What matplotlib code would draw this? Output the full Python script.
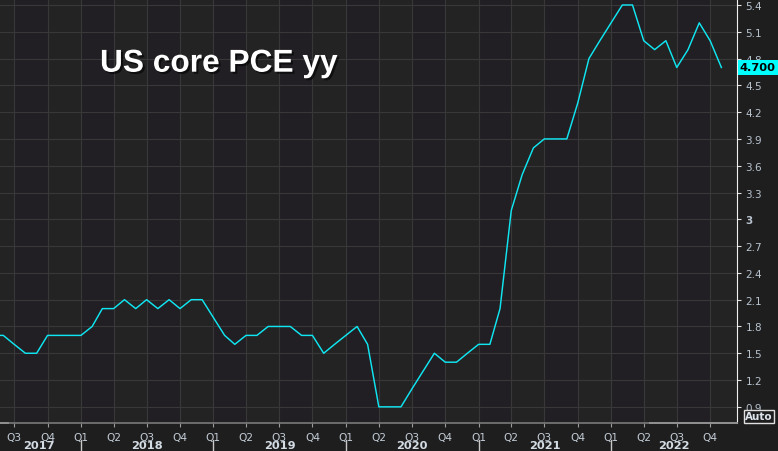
import numpy as np
import pandas as pd
import matplotlib
matplotlib.use("Agg")
import matplotlib.pyplot as plt
import matplotlib.dates as mdates
import matplotlib.patheffects as pe
from matplotlib.transforms import blended_transform_factory

# monthly core PCE y/y, May 2017 .. Nov 2022
months = pd.date_range("2017-05-01", "2022-11-01", freq="MS")
pce_2017 = [1.7, 1.7, 1.6, 1.5, 1.5, 1.7, 1.7, 1.7]
pce_2018 = [1.7, 1.8, 2.0, 2.0, 2.1, 2.0, 2.1, 2.0, 2.1, 2.0, 2.1, 2.1]
pce_2019 = [1.9, 1.7, 1.6, 1.7, 1.7, 1.8, 1.8, 1.8, 1.7, 1.7, 1.5, 1.6]
pce_2020 = [1.7, 1.8, 1.6, 0.9, 0.9, 0.9, 1.1, 1.3, 1.5, 1.4, 1.4, 1.5]
pce_2021 = [1.6, 1.6, 2.0, 3.1, 3.5, 3.8, 3.9, 3.9, 3.9, 4.3, 4.8, 5.0]
pce_2022 = [5.2, 5.4, 5.4, 5.0, 4.9, 5.0, 4.7, 4.9, 5.2, 5.0, 4.7]
pce = pce_2017 + pce_2018 + pce_2019 + pce_2020 + pce_2021 + pce_2022

years = [2017, 2018, 2019, 2020, 2021, 2022]
yticks = [0.9, 1.2, 1.5, 1.8, 2.1, 2.4, 2.7, 3.0, 3.3, 3.6, 3.9, 4.2, 4.5, 4.8, 5.1, 5.4]
last_label = "4.700"

W, H = 778, 452
bg = "#1e1e1f"
fig = plt.figure(figsize=(W / 100, H / 100), dpi=100, facecolor=bg)
ax = fig.add_axes([0, 28 / H, 737 / W, 424 / H])
ax.set_facecolor("none")

x0 = mdates.date2num(pd.Timestamp("2017-05-23"))
x1 = mdates.date2num(pd.Timestamp("2022-12-14"))
ax.set_xlim(x0, x1)
ax.set_ylim(0.719, 5.467)

# alternating quarter shading (very faint)
qstarts = pd.date_range("2017-04-01", "2022-10-01", freq="QS")
for q in qstarts:
    c = "#211f23" if q.month in (1, 7) else "#222322"
    ax.axvspan(q, q + pd.DateOffset(months=3), color=c, lw=0, zorder=0)

ax.plot(months, pce, color="#10e6f2", lw=1.05, zorder=3)

# axes, ticks, grid
qticks = pd.date_range("2017-07-01", "2022-10-01", freq="QS")
ax.set_xticks(qticks)
ax.set_xticklabels(["Q%d" % ((d.month - 1) // 3 + 1) for d in qticks])
ax.yaxis.tick_right()
ax.set_yticks(yticks)
ax.set_yticklabels(["%g" % v for v in yticks])
for lab in ax.get_yticklabels():
    if lab.get_text() == "3":
        lab.set_fontweight("bold")
ax.tick_params(axis="x", colors="#9a9a9a", labelcolor="#c4cdd6", labelsize=7.6,
               length=3, pad=3.2)
ax.tick_params(axis="y", colors="#e0e0e0", labelcolor="#b8c3ce", labelsize=7.5,
               length=3, pad=3)
ax.grid(True, color="#383838", lw=0.8)
ax.set_axisbelow(True)
for s in ["top", "left"]:
    ax.spines[s].set_visible(False)
ax.spines["right"].set_color("#f0f0f0")
ax.spines["bottom"].set_color("#7a7a7a")
ax.spines["bottom"].set_linewidth(1.2)

xt = ax.get_xaxis_transform()
# white ends of the bottom line
ax.plot([0, 8 / 737], [0, 0], transform=ax.transAxes, color="white", lw=1.4, clip_on=False)
ax.plot([650 / 737, 1], [0, 0], transform=ax.transAxes, color="white", lw=1.4, clip_on=False)

# year labels and separators
for yr in years:
    a = max(mdates.date2num(pd.Timestamp(f"{yr}-01-01")), x0)
    b = min(mdates.date2num(pd.Timestamp(f"{yr + 1}-01-01")), x1)
    ax.text((a + b) / 2 - (4 if yr == 2017 else 0), -17.5 / 424, str(yr), transform=xt,
            ha="center", va="top", fontsize=8.2, fontweight="bold", color="#d4dce4",
            clip_on=False)
    if yr > years[0]:
        d = mdates.date2num(pd.Timestamp(f"{yr}-01-01"))
        ax.plot([d, d], [-17 / 424, -30 / 424], transform=xt, color="#c8c8c8",
                lw=1, clip_on=False)

# last value tag
tr = blended_transform_factory(ax.transAxes, ax.transData)
ax.text(1.0035, pce[-1], last_label, transform=tr, ha="left", va="center",
        fontsize=8.2, fontweight="bold", color="black", zorder=5,
        bbox=dict(boxstyle="square,pad=0.18", facecolor="#00ffff", edgecolor="none"))

fig.text(745 / W, 1 - 417.5 / H, "Auto", ha="left", va="center", fontsize=7.5,
         fontweight="bold", color="#dde4ec",
         bbox=dict(boxstyle="square,pad=0.12", facecolor=bg, edgecolor="#e0e0e0", lw=1))

fig.text(100 / W, 1 - 72.7 / H, "US core PCE yy", ha="left", va="baseline",
         fontfamily="Liberation Sans", fontweight="bold", fontsize=22.8, color="white",
         path_effects=[pe.withSimplePatchShadow(offset=(1.5, -1.5), shadow_rgbFace="black",
                                                alpha=0.6)])

fig.savefig("out.png", dpi=100, facecolor=bg)
plt.close()
